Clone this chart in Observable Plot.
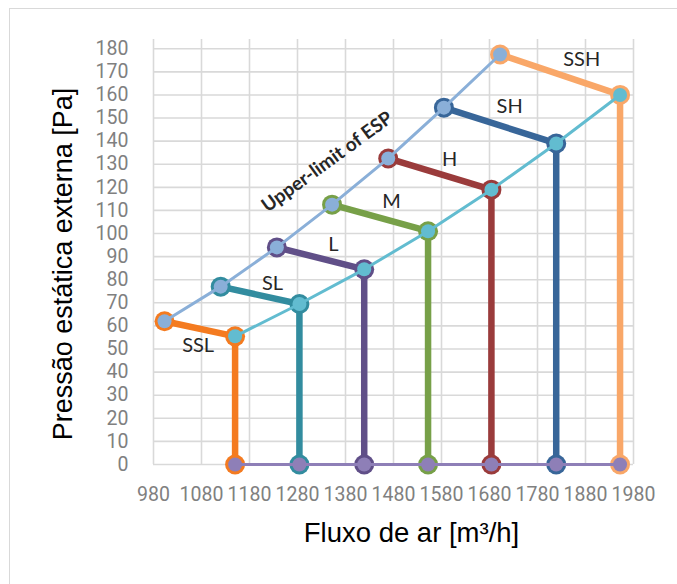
<!DOCTYPE html>
<html>
<head>
<meta charset="utf-8">
<script src="https://cdn.jsdelivr.net/npm/d3@7"></script>
<script src="https://cdn.jsdelivr.net/npm/@observablehq/plot@0.6"></script>
<style>
  html, body { margin: 0; padding: 0; background: #fff; }
  #wrap { position: relative; width: 677px; height: 584px; overflow: hidden; }
  #border { position: absolute; left: 9px; top: 8px; width: 700px; height: 600px; border: 1.5px solid #d9d9d9; box-sizing: border-box; }
  #chart { position: absolute; left: 0; top: 0; }
</style>
</head>
<body>
<div id="wrap"><div id="border"></div><div id="chart"></div></div>
<script>
// Fan speed settings
const speeds = ["SSL", "SL", "L", "M", "H", "SH", "SSH"];
// Upper-limit of ESP points (start of each speed curve)
const upperFlow = [1003, 1120, 1237, 1352, 1469, 1585, 1702];
const upperESP  = [62, 77, 94, 112.5, 132.5, 154.5, 177.5];
// Lower end of each speed curve
const lowerFlow = [1150, 1284, 1419, 1552, 1684, 1819, 1952];
const lowerESP  = [55.5, 69.5, 84.5, 101, 119, 139, 160];
// Series colours
const speedColors = ["#F47B20", "#328C9F", "#604F88", "#77A048", "#9A3B3B", "#386699", "#F9A768"];
const upperColor = "#8AAFD8";
const lowerColor = "#62BCD0";
const zeroColor = "#8E7FB7";
// Label anchor points (data units)
const labelFlow = [1073, 1228, 1355, 1476, 1597, 1722, 1872];
const labelESP  = [51.5, 78.5, 95, 114, 132, 155, 175.5];
const upperLabel = "Upper-limit of ESP";
const upperLabelFlow = 1342;
const upperLabelESP = 131;
// Axis ticks
const xTicks = [980, 1080, 1180, 1280, 1380, 1480, 1580, 1680, 1780, 1880, 1980];
const yTicks = [0, 10, 20, 30, 40, 50, 60, 70, 80, 90, 100, 110, 120, 130, 140, 150, 160, 170, 180];
const xTitle = "Fluxo de ar [m³/h]";
const yTitle = "Pressão estática externa [Pa]";

const seriesRows = speeds.flatMap((s, i) => [
  {speed: s, flow: upperFlow[i], esp: upperESP[i]},
  {speed: s, flow: lowerFlow[i], esp: lowerESP[i]},
  {speed: s, flow: lowerFlow[i], esp: 0}
]);
const upperRows = speeds.map((s, i) => ({flow: upperFlow[i], esp: upperESP[i]}));
const lowerRows = speeds.map((s, i) => ({flow: lowerFlow[i], esp: lowerESP[i]}));
const zeroRows = speeds.map((s, i) => ({flow: lowerFlow[i], esp: 0}));
const labelRows = speeds.map((s, i) => ({speed: s, flow: labelFlow[i], esp: labelESP[i]}));

const chart = Plot.plot({
  width: 677,
  height: 584,
  marginLeft: 153,
  marginRight: 44,
  marginTop: 39,
  marginBottom: 120,
  x: {domain: [980, 1980]},
  y: {domain: [0, 184]},
  color: {domain: speeds, range: speedColors},
  style: {fontFamily: "Roboto", background: "transparent", overflow: "visible"},
  marks: [
    Plot.gridX(xTicks, {stroke: "#d9d9d9", strokeOpacity: 1, strokeWidth: 1.6}),
    Plot.gridY(yTicks, {stroke: "#d9d9d9", strokeOpacity: 1, strokeWidth: 1.6}),
    Plot.axisX(xTicks, {tickSize: 0, tickPadding: 23, fontSize: 19.5, fill: "#808080", label: null, tickFormat: d => String(d)}),
    Plot.axisY(yTicks, {tickSize: 0, tickPadding: 25, fontSize: 19.5, fill: "#808080", label: null, tickFormat: d => String(d)}),
    Plot.line(seriesRows, {x: "flow", y: "esp", z: "speed", stroke: "speed", strokeWidth: 6.5}),
    Plot.dot(seriesRows, {x: "flow", y: "esp", fill: "speed", r: 10}),
    Plot.line(upperRows, {x: "flow", y: "esp", stroke: upperColor, strokeWidth: 3}),
    Plot.dot(upperRows, {x: "flow", y: "esp", fill: upperColor, r: 7}),
    Plot.line(lowerRows, {x: "flow", y: "esp", stroke: lowerColor, strokeWidth: 3}),
    Plot.dot(lowerRows, {x: "flow", y: "esp", fill: lowerColor, r: 7}),
    Plot.line(zeroRows, {x: "flow", y: "esp", stroke: zeroColor, strokeWidth: 3.2}),
    Plot.dot(zeroRows, {x: "flow", y: "esp", fill: zeroColor, r: 7}),
    Plot.text(labelRows, {x: "flow", y: "esp", text: "speed", fontFamily: "Lato", fontSize: 20, fill: "#262626"}),
    Plot.text([upperLabel], {x: () => upperLabelFlow, y: () => upperLabelESP, text: d => d, rotate: -36, fontFamily: "Lato", fontWeight: "bold", fontSize: 19, fill: "#262626"}),
    Plot.text([yTitle], {frameAnchor: "left", dx: -90, dy: 12, rotate: -90, textAnchor: "middle", lineAnchor: "middle", text: d => d, fontFamily: "Liberation Sans", fontSize: 27, fill: "#000"}),
    Plot.text([xTitle], {frameAnchor: "bottom", dx: 18, dy: 69, textAnchor: "middle", lineAnchor: "middle", text: d => d, fontFamily: "Liberation Sans", fontSize: 27.5, fill: "#000"})
  ]
});
document.getElementById("chart").appendChild(chart);
</script>
</body>
</html>
